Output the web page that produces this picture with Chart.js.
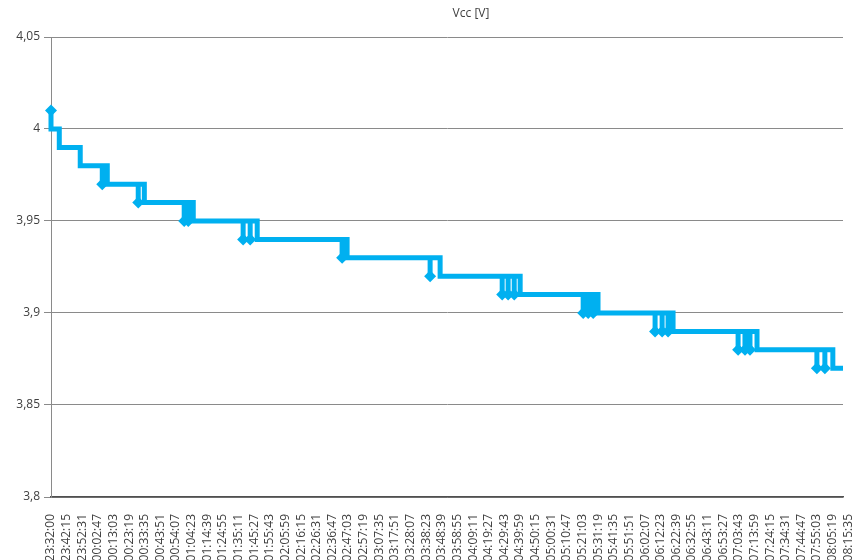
<!DOCTYPE html>
<html>
<head>
<meta charset="utf-8">
<script src="https://cdn.jsdelivr.net/npm/chart.js@4/dist/chart.umd.min.js"></script>
<style>
  html, body { margin: 0; padding: 0; background: #ffffff; }
  #wrap { width: 858px; height: 560px; position: relative; }
</style>
</head>
<body>
<div id="wrap"><canvas id="c"></canvas></div>
<script>
// Category (time) labels of the x axis
const timeLabels = [
  "23:32:00","23:42:15","23:52:31","00:02:47","00:13:03","00:23:19","00:33:35","00:43:51",
  "00:54:07","01:04:23","01:14:39","01:24:55","01:35:11","01:45:27","01:55:43","02:05:59",
  "02:16:15","02:26:31","02:36:47","02:47:03","02:57:19","03:07:35","03:17:51","03:28:07",
  "03:38:23","03:48:39","03:58:55","04:09:11","04:19:27","04:29:43","04:39:59","04:50:15",
  "05:00:31","05:10:47","05:21:03","05:31:19","05:41:35","05:51:51","06:02:07","06:12:23",
  "06:22:39","06:32:55","06:43:11","06:53:27","07:03:43","07:13:59","07:24:15","07:34:31",
  "07:44:47","07:55:03","08:05:19","08:15:35"
];
// Voltage levels (V), successive plateaus
const levels = [4.01, 4.00, 3.99, 3.98, 3.97, 3.96, 3.95, 3.94, 3.93, 3.92, 3.91, 3.90, 3.89, 3.88, 3.87];
// Position (in label-interval units) where each plateau finally drops to the next level
const dropAt = [0, 0.53, 1.87, 3.60, 5.97, 9.10, 13.19, 18.94, 24.89, 30.01, 34.99, 39.79, 45.16, 50.01];
// Positions of short dips to the next level before each final drop
const spikeAt = [
  [], [], [], [3.28], [5.58], [8.52, 8.78], [12.29, 12.74], [18.62], [24.25],
  [28.86, 29.24, 29.63], [34.04, 34.36, 34.68], [38.64, 39.09, 39.47],
  [43.95, 44.39, 44.71], [48.99, 49.50]
];
const endAt = 50.66;
const yTicks = [3.8, 3.85, 3.9, 3.95, 4.0, 4.05];

// Build the series points from the arrays above
const pts = [], radii = [];
function add(x, y, marker) { pts.push({ x: x, y: y }); radii.push(marker ? 6 : 0); }
add(0, levels[0], true);
for (let i = 0; i < dropAt.length; i++) {
  const hi = levels[i], lo = levels[i + 1];
  spikeAt[i].forEach(function (s) { add(s, hi); add(s, lo, true); add(s, hi); });
  add(dropAt[i], hi);
  add(dropAt[i], lo);
}
add(endAt, levels[levels.length - 1]);

const FONT = '"Open Sans", "DejaVu Sans", sans-serif';
const TXT = '#404040';
const GRID = '#8a8a8a';
const BLUE = '#00b0f0';

const titlePlugin = {
  id: 'customTitle',
  afterDraw(chart) {
    const ctx = chart.ctx;
    ctx.save();
    ctx.font = '12px ' + FONT;
    ctx.fillStyle = TXT;
    ctx.textAlign = 'center';
    ctx.textBaseline = 'middle';
    ctx.fillText('Vcc [V]', 471, 14);
    ctx.restore();
  }
};

new Chart(document.getElementById('c'), {
  type: 'line',
  data: {
    datasets: [{
      label: 'Vcc [V]',
      data: pts,
      clip: 10,
      borderColor: BLUE,
      backgroundColor: BLUE,
      borderWidth: 5,
      borderJoinStyle: 'miter',
      borderCapStyle: 'butt',
      tension: 0,
      fill: false,
      pointStyle: 'rectRot',
      pointRadius: radii,
      pointHoverRadius: radii,
      pointBackgroundColor: BLUE,
      pointBorderColor: BLUE,
      pointBorderWidth: 0
    }]
  },
  options: {
    responsive: true,
    maintainAspectRatio: false,
    animation: false,
    layout: { padding: { top: 37, right: 15, left: 0, bottom: 0 } },
    plugins: {
      legend: { display: false },
      title: { display: false },
      tooltip: { enabled: false }
    },
    scales: {
      x: {
        type: 'linear',
        min: 0,
        max: endAt,
        afterBuildTicks(scale) { scale.ticks = timeLabels.map(function (_, i) { return { value: i }; }); },
        afterFit(scale) { scale.height = 63; scale.paddingRight = 0; scale.paddingLeft = 0; },
        ticks: {
          autoSkip: false,
          minRotation: 90,
          maxRotation: 90,
          padding: 7,
          color: TXT,
          font: { family: FONT, size: 12 },
          callback: function (v) { return timeLabels[v]; }
        },
        grid: { display: false, drawTicks: true, tickLength: 10 },
        border: { display: true, color: '#505050', width: 1.5 }
      },
      y: {
        min: 3.8,
        max: 4.05,
        afterBuildTicks(scale) { scale.ticks = yTicks.map(function (v) { return { value: v }; }); },
        afterFit(scale) { scale.width = 51; },
        ticks: {
          padding: 4,
          color: TXT,
          font: { family: FONT, size: 12 },
          callback: function (v) { return String(parseFloat(Number(v).toFixed(2))).replace('.', ','); }
        },
        grid: { color: GRID, lineWidth: 1, drawTicks: true, tickLength: 7 },
        border: { display: true, color: GRID, width: 1 }
      }
    }
  },
  plugins: [titlePlugin]
});
</script>
</body>
</html>
